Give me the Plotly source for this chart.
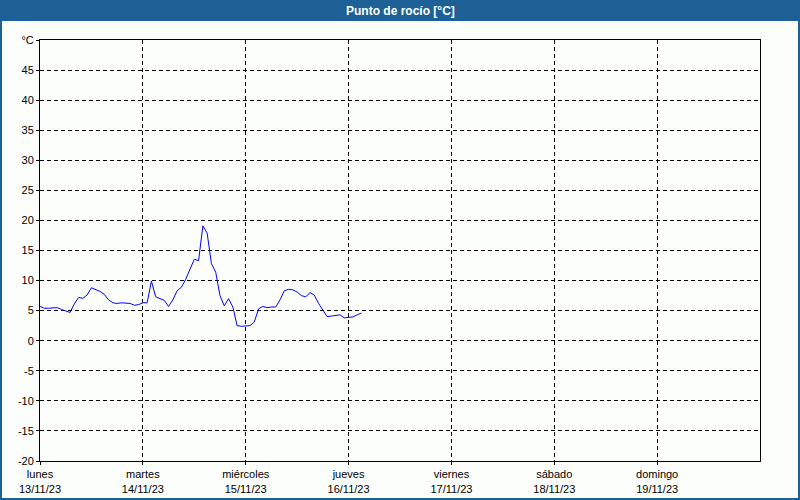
import pandas as pd
import plotly.graph_objects as go

# Data (hourly dew point readings, °C)
start_time = "2023-11-13 00:00"
dew_point = [
    5.7, 5.4, 5.4, 5.5, 5.5, 5.2, 4.9, 4.7, 6.1, 7.2, 7.05, 7.6,
    8.8, 8.5, 8.2, 7.7, 6.8, 6.3, 6.2, 6.3, 6.25, 6.2, 5.9, 6.0,
    6.3, 6.3, 9.9, 7.3, 7.0, 6.7, 5.7, 6.8, 8.3, 8.9, 10.2, 12.0,
    13.55, 13.3, 19.1, 17.9, 12.8, 11.4, 7.5, 5.8, 7.0, 5.6, 2.5, 2.4,
    2.4, 2.5, 3.1, 5.3, 5.7, 5.5, 5.6, 5.6, 6.8, 8.3, 8.55, 8.45,
    8.1, 7.5, 7.3, 8.0, 7.6, 6.2, 5.1, 4.0, 4.1, 4.25, 4.3, 3.8,
    3.85, 3.95, 4.3, 4.6,
]
day_dates = ["2023-11-13", "2023-11-14", "2023-11-15", "2023-11-16",
             "2023-11-17", "2023-11-18", "2023-11-19"]
day_names = ["lunes", "martes", "miércoles", "jueves", "viernes", "sábado", "domingo"]
day_labels = ["13/11/23", "14/11/23", "15/11/23", "16/11/23", "17/11/23", "18/11/23", "19/11/23"]
y_ticks = [-20, -15, -10, -5, 0, 5, 10, 15, 20, 25, 30, 35, 40, 45, 50]
y_labels = [str(v) for v in y_ticks[:-1]] + ["°C"]
title_text = "Punto de rocío [°C]"

times = pd.date_range(start_time, periods=len(dew_point), freq="h")

W, H = 800, 500
ML, MR, MT, MB = 40, 40, 40, 39
PW, PH = W - ML - MR, H - MT - MB
BAR = "#1d6096"
FONT = "Liberation Sans"

fig = go.Figure()
fig.add_trace(go.Scatter(x=times, y=dew_point, mode="lines",
                         line=dict(color="#0000ff", width=1), hoverinfo="skip"))

fig.update_layout(
    width=W, height=H,
    margin=dict(l=ML, r=MR, t=MT, b=MB, autoexpand=False),
    paper_bgcolor="#fcfefc", plot_bgcolor="#fcfefc",
    showlegend=False,
    font=dict(family=FONT, size=11, color="#000000"),
)
fig.update_xaxes(
    type="date", automargin=False,
    range=["2023-11-13", "2023-11-20"],
    tickvals=day_dates,
    ticktext=[f"{n}<br>{d}" for n, d in zip(day_names, day_labels)],
    showgrid=True, gridcolor="#000000", gridwidth=1, griddash="4px,3px",
    showline=True, linecolor="#000000", linewidth=1, mirror=True,
    ticks="outside", ticklen=3, tickcolor="#000000",
    zeroline=False, tickfont=dict(size=11),
)
fig.update_yaxes(
    automargin=False,
    range=[-20, 50],
    tickvals=y_ticks, ticktext=y_labels,
    showgrid=True, gridcolor="#000000", gridwidth=1, griddash="4px,3px",
    showline=True, linecolor="#000000", linewidth=1, mirror=True,
    ticks="outside", ticklen=3, tickcolor="#000000",
    zeroline=False, tickfont=dict(size=11),
)

def px_x(p):
    return (p - ML) / PW

def px_y(p):
    return (H - MB - p) / PH

# title bar
fig.add_shape(type="rect", xref="paper", yref="paper",
              x0=px_x(0), x1=px_x(W), y0=px_y(21), y1=px_y(0),
              fillcolor=BAR, line=dict(width=0), layer="above")
# outer frame
fig.add_shape(type="rect", xref="paper", yref="paper",
              x0=px_x(1), x1=px_x(W - 1), y0=px_y(H - 1), y1=px_y(1),
              fillcolor="rgba(0,0,0,0)", line=dict(color=BAR, width=2), layer="above")
fig.add_annotation(text=f"<b>{title_text}</b>", xref="paper", yref="paper",
                   x=px_x(W / 2), y=px_y(10.5), showarrow=False,
                   xanchor="center", yanchor="middle",
                   font=dict(family=FONT, size=12, color="#ffffff"))

fig.write_html("out.html", config={"displayModeBar": False},
               post_script="document.body.style.margin='0';document.body.style.overflow='hidden';")
